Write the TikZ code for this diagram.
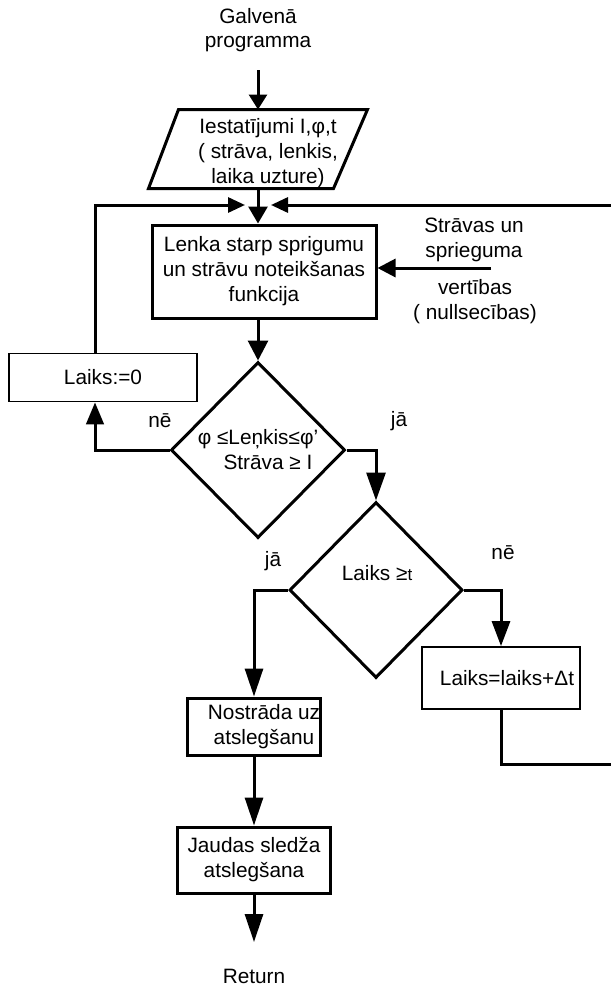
\documentclass[tikz,border=0pt]{standalone}
\usepackage{fontspec}
\setmainfont{Liberation Sans}
\usetikzlibrary{shapes.geometric,arrows.meta}
\begin{document}
\begin{tikzpicture}[x=1bp,y=-1bp,line width=3bp,
  txt/.style={font=\fontsize{20.8bp}{25bp}\selectfont,align=center,inner sep=0pt},
  thickbox/.style={txt,draw,rectangle,line width=3bp},
  thinbox/.style={txt,draw,rectangle,line width=1.8bp},
  dia/.style={txt,draw,diamond,line width=3bp},
  arr/.style 2 args={-{Triangle[length=#1,width=#2]}},
]
\useasboundingbox (0,0) rectangle (611,988);

% title
\node[txt,font=\fontsize{20.8bp}{24bp}\selectfont] (title) at (258,30) {Galvenā\\programma};
\coordinate (a0) at (258,70);

% input parallelogram
\node[minimum width=216bp,minimum height=76bp,inner sep=0pt] (par) at (258,149) {};
\draw[line width=3bp,line join=miter] ([xshift=30bp]par.north west) -- (par.north east)
  -- ([xshift=-34bp]par.south east) -- (par.south west) -- cycle;
\node[txt] (partxt) at (268,153) {Iestatījumi I,φ,t\\( strāva, lenkis,\\laika uzture)};

% merge points
\coordinate (mL) at (245,205);
\coordinate (mR) at (271,205);

% main processing box
\node[thickbox,minimum width=224bp,minimum height=93bp] (lenka) at (264,271.5)
  {Lenka starp sprigumu\\un strāvu noteikšanas\\funkcija};
\coordinate (inp) at (491,268);
\node[txt] (intxt1) at (474,240) {Strāvas un\\sprieguma};
\node[txt] (intxt2) at (475,302) {vertības\\( nullsecības)};

% Laiks:=0
\node[thinbox,minimum width=188bp,minimum height=48bp] (laiks0) at (103,377.5) {Laiks:=0};
\coordinate (nob) at (95,449);

% decision 1
\node[dia,minimum width=174bp,minimum height=176bp] (d1) at (258,450)
  {φ ≤Leņkis≤φ'\\\hspace*{20bp}Strāva ≥ I};
\node[txt] (ne1) at (160,421) {nē};
\node[txt] (ja1) at (399,421) {jā};

% decision 2
\node[dia,minimum width=173bp,minimum height=176bp] (d2) at (376,590) {};
\node[txt] (d2txt) at (377,573) {Laiks ≥{\fontsize{17bp}{20bp}\selectfont t}};
\node[txt] (ja2) at (273,561) {jā};
\node[txt] (ne2) at (503,553) {nē};

% Laiks=laiks+dt
\node[thinbox,minimum width=158bp,minimum height=62bp] (lt) at (501,678)
  {\hspace*{12bp}Laiks=laiks+Δt};
\coordinate (rc) at (625,764);

% Nostrada
\node[thickbox,minimum width=132bp,minimum height=57bp] (nos) at (254,726.5)
  {\hspace*{20bp}Nostrāda uz\\\hspace*{20bp}atslegšanu};

% Jaudas
\node[thickbox,minimum width=153bp,minimum height=66bp] (jaud) at (254,860)
  {Jaudas sledža\\atslegšana};
\coordinate (ret) at (254,942);
\node[txt] (return) at (254,976) {Return};

% connectors
\draw[arr={15bp}{18bp}] (a0) -- (par.north);
\draw[arr={17bp}{19bp}] (par.south) -- (par.south |- lenka.north);
\draw[arr={17bp}{15bp}] (laiks0.north -| nob) |- (mL);
\draw[arr={17bp}{15bp}] (lt.south) |- (rc) |- (mR);
\draw[arr={18bp}{18bp}] (inp) -- (inp -| lenka.east);
\draw[arr={20bp}{20bp}] (lenka.south -| d1.north) -- (d1.north);
\draw[arr={22bp}{17.5bp}] (d1.west) -| (laiks0.south -| nob);
\draw[arr={28bp}{19bp}] (d1.east) -| (d2.north);
\draw[arr={28bp}{18bp}] (d2.west) -| (nos.north);
\draw[arr={25bp}{18bp}] (d2.east) -| (lt.north);
\draw[arr={28bp}{18bp}] (nos.south) -- (jaud.north);
\draw[arr={28bp}{18bp}] (jaud.south) -- (ret);
\end{tikzpicture}
\end{document}
